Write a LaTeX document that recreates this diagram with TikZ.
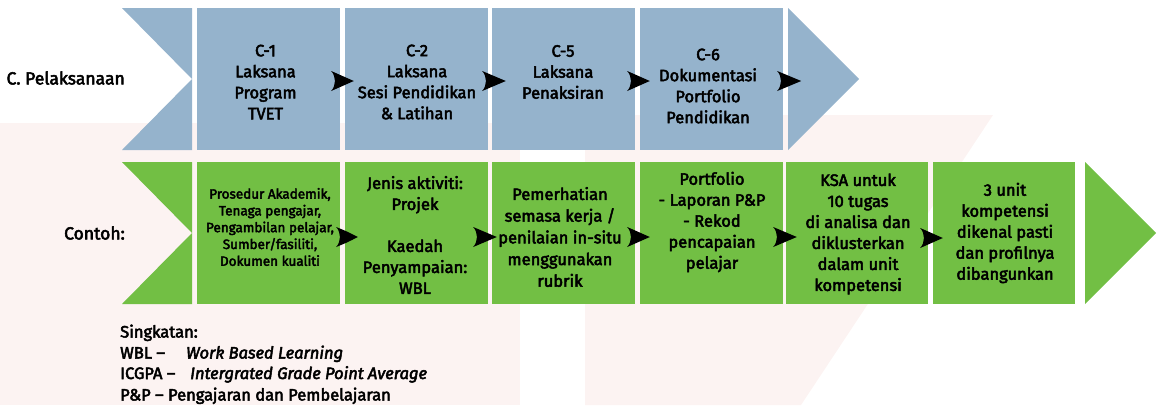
\documentclass[tikz,border=0pt]{standalone}
\usepackage{fontspec}
\setmainfont{Fira Sans}[UprightFeatures={FakeBold=3},ItalicFeatures={FakeBold=3}]
\usetikzlibrary{calc,arrows.meta}
\definecolor{pblue}{RGB}{149,179,204}
\definecolor{pgreen}{RGB}{114,191,68}
\definecolor{bgpink}{RGB}{252,243,242}
\tikzset{
  box/.style={rectangle, inner sep=0, minimum width=143, minimum height=142, draw=none},
  topbox/.style={box, fill=pblue},
  botbox/.style={box, fill=pgreen},
  txt/.style={align=center, inner sep=0, font=\fontsize{16.5}{21}\selectfont},
  smalltxt/.style={align=center, inner sep=0, font=\fontsize{13.5}{16.8}\selectfont},
  rowlabel/.style={anchor=east, inner sep=0, font=\fontsize{17.5}{21}\selectfont},
  legend/.style={anchor=base west, inner sep=0, font=\fontsize{16.5}{21}\selectfont},
  tiparrow/.style={fill=black, draw=none, to path={
    let \p1=(\tikztostart), \p2=(\tikztotarget) in
    (\x1,{\y1+10pt}) .. controls ({\x1+12pt},{\y1+5pt}) .. (\p2)
    .. controls ({\x1+12pt},{\y1-5pt}) .. (\x1,{\y1-10pt})
    .. controls ({\x1+5pt},{\y1-4pt}) and ({\x1+5pt},{\y1+4pt}) .. (\x1,{\y1+10pt}) -- cycle}}
}
\begin{document}
\begin{tikzpicture}[x=1pt,y=-1pt]
\useasboundingbox (0,0) rectangle (1158,405);
% faint background
\fill[bgpink] (0,123) rectangle (520,405);
\fill[bgpink] (585,115) -- (993,115) -- (801,405) -- (585,405) -- cycle;

% top row
\fill[pblue] (122,8) -- (192,8) -- (192,150) -- (122,150) -- (192,79) -- cycle;
\node[topbox] (t1) at (268.5,79) {};
\node[topbox] (t2) at (416.5,79) {};
\node[topbox] (t3) at (563.5,79) {};
\node[topbox] (t4) at (711.5,79) {};
\fill[pblue] (788,8) -- (859,79) -- (788,150) -- cycle;

\node[rowlabel] (lab1) at (125,78) {C. Pelaksanaan};

\node[txt] (t1t) at (265.5,82) {C-1\\Laksana\\Program\\TVET};
\node[txt] (t2t) at (417,82) {C-2\\Laksana\\Sesi Pendidikan\\\& Latihan};
\node[txt] (t3t) at (563,72) {C-5\\Laksana\\Penaksiran};
\node[txt] (t4t) at (708,86) {C-6\\Dokumentasi\\Portfolio\\Pendidikan};

% bottom row
\fill[pgreen] (122,162) -- (192,162) -- (192,304) -- (122,304) -- (192,233) -- cycle;
\node[botbox] (b1) at (268.5,233) {};
\node[botbox] (b2) at (416.5,233) {};
\node[botbox] (b3) at (563.5,233) {};
\node[botbox] (b4) at (711.5,233) {};
\node[botbox, minimum width=142] (b5) at (857,233) {};
\node[botbox, minimum width=142] (b6) at (1004,233) {};
\fill[pgreen] (1085,162) -- (1156,233) -- (1085,304) -- cycle;

\node[rowlabel] (lab2) at (125,233) {Contoh:};

\node[smalltxt] (b1t) at (270,227) {Prosedur Akademik,\\Tenaga pengajar,\\Pengambilan pelajar,\\Sumber/fasiliti,\\Dokumen kualiti};
\node[txt] (b2t) at (415,235) {Jenis aktiviti:\\Projek\\[21pt]Kaedah\\Penyampaian:\\WBL};
\node[txt,font=\fontsize{16.5}{21.7}\selectfont] (b3t) at (560,237) {Pemerhatian\\semasa kerja /\\penilaian in-situ\\menggunakan\\rubrik};
\node[txt] (b4t) at (712,222) {Portfolio\\- Laporan P\&P\\- Rekod\\pencapaian\\pelajar};
\node[txt] (b5t) at (858,234) {KSA untuk\\10 tugas\\di analisa dan\\diklusterkan\\dalam unit\\kompetensi};
\node[txt] (b6t) at (1005,233) {3 unit\\kompetensi\\dikenal pasti\\dan profilnya\\dibangunkan};

% arrowheads
\path[tiparrow] ($(t1.east)+(-9,2)$) to ($(t2.west)+(9,2)$);
\path[tiparrow] ($(t2.east)+(-6,2)$) to ($(t3.west)+(14,2)$);
\path[tiparrow] ($(t3.east)+(-8,2)$) to ($(t4.west)+(10,2)$);
\path[tiparrow] ($(t4.east)+(-6,2)$) to ($(t4.east)+(18,2)$);
\path[tiparrow] ($(b1.east)+(-4,4)$) to ($(b2.west)+(13,4)$);
\path[tiparrow] ($(b2.east)+(-15,4)$) to ($(b3.west)+(5,4)$);
\path[tiparrow] ($(b3.east)+(-8,4)$) to ($(b4.west)+(10,4)$);
\path[tiparrow] ($(b4.east)+(-10,4)$) to ($(b5.west)+(11,4)$);
\path[tiparrow] ($(b5.east)+(-8,5)$) to ($(b6.west)+(10,5)$);

% legend
\node[legend] (l1) at (120,337.5) {Singkatan:};
\node[legend] (l2) at (120,358.5) {WBL –};
\node[legend] (l2i) at (186,358.5) {\itshape Work Based Learning};
\node[legend] (l3) at (120,379) {ICGPA –};
\node[legend] (l3i) at (190,379) {\itshape Intergrated Grade Point Average};
\node[legend] (l4) at (120,400.5) {P\&P – Pengajaran dan Pembelajaran};
\end{tikzpicture}
\end{document}
